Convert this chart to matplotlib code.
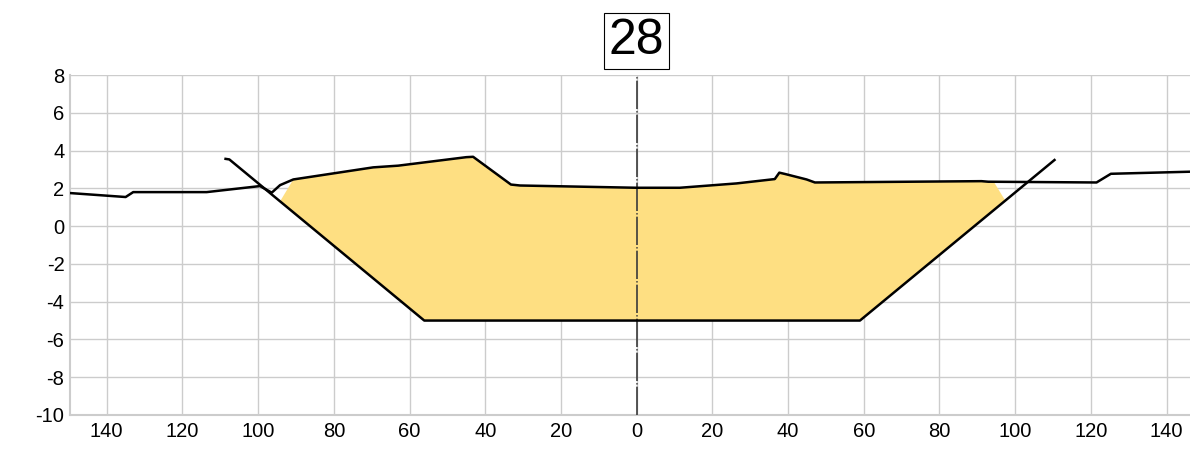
import matplotlib
matplotlib.use("Agg")
import matplotlib.pyplot as plt
from matplotlib.ticker import FuncFormatter

plt.rcParams['font.family'] = ['Liberation Sans', 'DejaVu Sans']
plt.rcParams['axes.unicode_minus'] = False

title_text = "28"

# Existing ground profile (offset m, elevation m)
ground_x = [-149.7, -135.0, -133.0, -113.6, -99.5, -96.4, -94.2, -90.7, -69.6, -63.0,
            -45.0, -43.2, -33.2, -30.8, 0.0, 11.4, 26.4, 36.5, 37.7, 39.2, 44.9, 47.1,
            91.1, 92.9, 121.5, 125.3, 146.2]
ground_y = [1.75, 1.54, 1.80, 1.80, 2.12, 1.77, 2.17, 2.47, 3.11, 3.20,
            3.65, 3.67, 2.20, 2.15, 2.03, 2.03, 2.26, 2.49, 2.83, 2.76, 2.47, 2.31,
            2.38, 2.35, 2.31, 2.77, 2.88]

# Design section (trapezoid)
design_x = [-108.6, -107.6, -56.1, 59.0, 110.4]
design_y = [3.56, 3.53, -5.0, -5.0, 3.50]

# Cut area polygon
cut_x = [-94.2, -90.7, -69.6, -63.0, -45.0, -43.2, -33.2, -30.8, 0.0, 11.4, 26.4, 36.5,
         37.7, 39.2, 44.9, 47.1, 91.1, 92.9, 94.5, 97.3, 59.0, -56.1]
cut_y = [1.31, 2.47, 3.11, 3.20, 3.65, 3.67, 2.20, 2.15, 2.03, 2.03, 2.26, 2.49,
         2.83, 2.76, 2.47, 2.31, 2.38, 2.35, 2.30, 1.38, -5.0, -5.0]

x_ticks = [-140, -120, -100, -80, -60, -40, -20, 0, 20, 40, 60, 80, 100, 120, 140]
y_ticks = [-10, -8, -6, -4, -2, 0, 2, 4, 6, 8]

fig = plt.figure(figsize=(11.9, 4.5), dpi=100)
ax = fig.add_axes([70/1190, 1 - 415/450, 1 - 70/1190, (415 - 75)/450])

ax.fill(cut_x, cut_y, color="#FEDF82", lw=0, zorder=2)
ax.plot(ground_x, ground_y, color="black", lw=1.8, zorder=4, solid_joinstyle="round")
ax.plot(design_x, design_y, color="black", lw=1.8, zorder=4, solid_joinstyle="round")
ax.axvline(0, color="#3a3a3a", lw=1.2, ls=(0, (17, 1.3, 0.8, 1.3)), zorder=3)

ax.set_xlim(-149.7, 146.2)
ax.set_ylim(-10, 8)
ax.set_xticks(x_ticks)
ax.set_yticks(y_ticks)
ax.xaxis.set_major_formatter(FuncFormatter(lambda v, p: f"{abs(int(round(v)))}"))
ax.grid(True, color="#cccccc", lw=1, zorder=0)
ax.set_axisbelow(True)
ax.tick_params(length=0, labelsize=14.5, colors="black")
ax.tick_params(axis="x", pad=5)
ax.tick_params(axis="y", pad=4)
for s in ["top", "right"]:
    ax.spines[s].set_visible(False)
for s in ["left", "bottom"]:
    ax.spines[s].set_color("#cccccc")
    ax.spines[s].set_linewidth(1.5)

fig.text(636.7/1190, 1 - 41/450, title_text, ha="center", va="center", fontsize=36,
         bbox=dict(boxstyle="square,pad=0.1", fc="white", ec="black", lw=0.8))

fig.savefig("out.png", dpi=100)
